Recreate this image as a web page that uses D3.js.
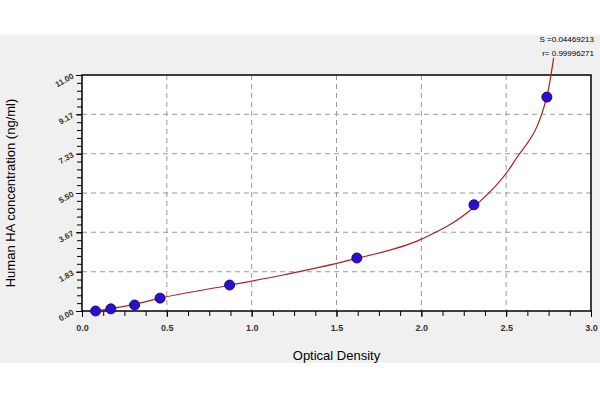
<!DOCTYPE html><html><head><script src="https://cdn.jsdelivr.net/npm/d3@7"></script>
<style>body{margin:0;background:#fff}</style></head><body><svg id="c" width="600" height="400"></svg><script>
const odX=[0.08,0.17,0.31,0.46,0.87,1.62,2.31,2.74];
const concY=[0.0,0.1,0.28,0.6,1.21,2.47,4.95,9.97];
const fitX=[0.06,0.3,0.46,0.87,1.2,1.62,2.0,2.31,2.55,2.74,2.78];
const fitY=[-0.02,0.3,0.6,1.2,1.7,2.45,3.35,4.85,7.0,10.0,11.8];
const yTicks=[0,1.83,3.67,5.5,7.33,9.17,11];
const yLabels=["0.00","1.83","3.67","5.50","7.33","9.17","11.00"];
const xTicks=[0,0.5,1,1.5,2,2.5,3];
const svg=d3.select("#c");
svg.append("rect").attr("x",0).attr("y",35).attr("width",600).attr("height",328).attr("fill","#f0f0f0");
const L=82,R=591,T=75,B=311;
const x=d3.scaleLinear().domain([0,3]).range([L,R]);
const y=d3.scaleLinear().domain([0,11]).range([B,T]);
svg.append("rect").attr("x",L).attr("y",T).attr("width",R-L).attr("height",B-T).attr("fill","#fff");
const g=svg.append("g");
yTicks.slice(1,-1).forEach(v=>g.append("line").attr("x1",L).attr("x2",R).attr("y1",y(v)).attr("y2",y(v)).attr("stroke","#999").attr("stroke-dasharray","5,4"));
xTicks.slice(1,-1).forEach(v=>g.append("line").attr("y1",T).attr("y2",B).attr("x1",x(v)).attr("x2",x(v)).attr("stroke","#999").attr("stroke-dasharray","5,4"));
const xa=svg.append("g").attr("transform",`translate(0,${B})`).call(d3.axisBottom(x).tickValues(d3.range(0,3.001,0.125)).tickSize(5).tickFormat(""));
svg.append("g").attr("transform",`translate(0,${B})`).call(d3.axisBottom(x).tickValues(xTicks).tickSize(6).tickFormat(d3.format(".1f"))).call(a=>{a.selectAll("text").attr("font-size",9).attr("font-weight","bold").attr("fill","#333").attr("dy","1.2em")});
svg.append("g").attr("transform",`translate(${L},0)`).call(d3.axisLeft(y).tickValues(d3.range(0,11.001,11/30)).tickSize(5).tickFormat(""));
svg.append("g").attr("transform",`translate(${L},0)`).call(d3.axisLeft(y).tickValues(yTicks).tickSize(6).tickFormat((d,i)=>yLabels[i])).call(a=>{a.selectAll("text").attr("font-size",8).attr("font-weight","bold").attr("fill","#333").attr("transform",function(d){return `rotate(-30,-9,${0})`})});
svg.selectAll(".domain").remove();
svg.append("rect").attr("x",L).attr("y",T).attr("width",R-L).attr("height",B-T).attr("fill","none").attr("stroke","#000").attr("stroke-width",1.5);
svg.append("path").datum(fitX.map((v,i)=>[v,fitY[i]])).attr("d",d3.line().x(d=>x(d[0])).y(d=>y(d[1])).curve(d3.curveMonotoneX)).attr("fill","none").attr("stroke","#b02020").attr("stroke-width",1.2);
svg.selectAll("circle.p").data(odX).join("circle").attr("cx",d=>x(d)).attr("cy",(d,i)=>y(concY[i])).attr("r",5).attr("fill","#2a10c8").attr("stroke","#1a0888");
svg.append("text").attr("x",L+(R-L)/2).attr("y",360).attr("text-anchor","middle").attr("font-family","Arial").attr("font-size",13).text("Optical Density");
svg.append("text").attr("transform",`translate(15,${(T+B)/2}) rotate(-90)`).attr("text-anchor","middle").attr("font-family","Arial").attr("font-size",13).text("Human HA concentration (ng/ml)");
svg.append("text").attr("x",594).attr("y",42).attr("text-anchor","end").attr("font-family","Arial").attr("font-size",8).text("S =0.04469213");
svg.append("text").attr("x",594).attr("y",56).attr("text-anchor","end").attr("font-family","Arial").attr("font-size",8).text("r= 0.99996271");
</script></body></html>
